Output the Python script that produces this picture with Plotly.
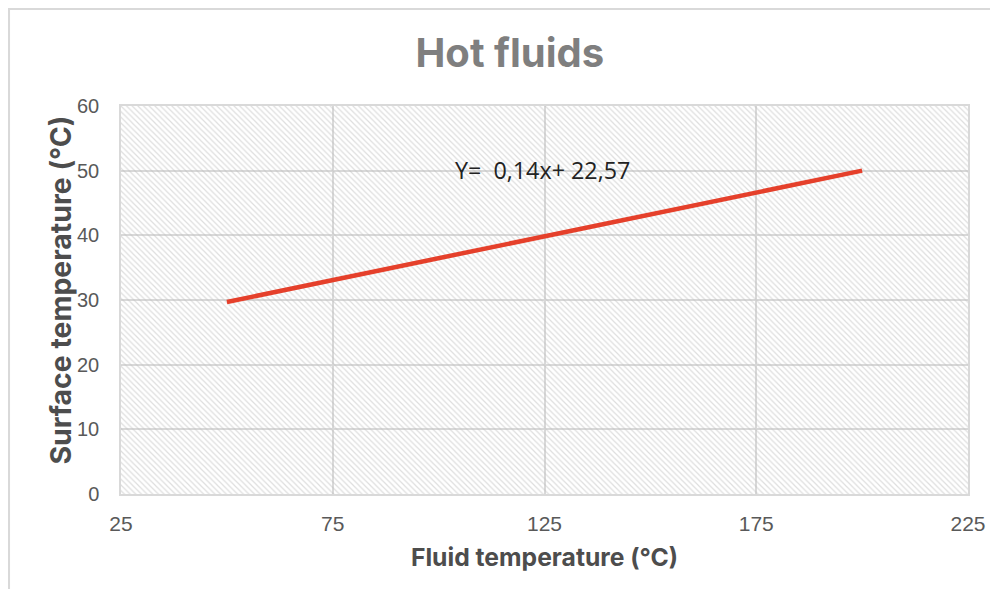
import plotly.graph_objects as go

# Data
fluid_temp = [50, 200]
surface_temp = [29.7, 50.0]
x_ticks = [25, 75, 125, 175, 225]
y_ticks = [0, 10, 20, 30, 40, 50, 60]
x_range = [25, 225]
y_range = [0, 60]
equation_text = "Y=  0,14x+ 22,57"
title_text = "Hot fluids"
x_title = "Fluid temperature (°C)"
y_title = "Surface temperature (°C)"

TITLE_FONT = "Inter"
TICK_FONT = "Liberation Sans"

fig = go.Figure()

# Hatched plot-area background
fig.add_trace(go.Scatter(
    x=[x_range[0], x_range[1], x_range[1], x_range[0], x_range[0]],
    y=[y_range[0], y_range[0], y_range[1], y_range[1], y_range[0]],
    mode="none", fill="toself",
    fillcolor="rgba(0,0,0,0)",
    fillpattern=dict(shape="\\", fgcolor="#bdbdbd", bgcolor="rgba(0,0,0,0)",
                     size=4, solidity=0.3),
    hoverinfo="skip", showlegend=False,
))

# Regression line
fig.add_trace(go.Scatter(
    x=fluid_temp, y=surface_temp, mode="lines",
    line=dict(color="#e5402b", width=4.5),
    showlegend=False,
))

fig.add_annotation(
    x=124.6, y=50.1, xref="x", yref="y", text=equation_text, showarrow=False,
    font=dict(family="Open Sans", size=23.3, color="#222222"),
    xanchor="center", yanchor="middle",
)

# Y-axis title (placed slightly above plot centre, as in the original)
fig.add_annotation(
    x=-0.072, y=0.5245, xref="paper", yref="paper", text=f"<b>{y_title}</b>",
    showarrow=False, textangle=-90, xanchor="center", yanchor="middle",
    font=dict(family=TITLE_FONT, size=28.4, color="#4d4d4d"),
)

# Chart frame
fig.add_shape(type="rect", xref="paper", yref="paper",
              x0=-0.1322, x1=1.1, y0=-0.3, y1=1.2500,
              line=dict(color="#d9d9d9", width=2), layer="below")

fig.update_layout(
    width=982, height=581,
    margin=dict(l=113, r=22, t=98, b=95, autoexpand=False),
    paper_bgcolor="white", plot_bgcolor="white",
    title=dict(text=f"<b>{title_text}</b>", x=0.511, xref="container", xanchor="center",
               y=0.9226, yref="container", yanchor="middle",
               font=dict(family=TITLE_FONT, size=40, color="#7f7f7f")),
    xaxis=dict(
        range=x_range, tickvals=x_ticks, showgrid=True, gridcolor="#d9d9d9", gridwidth=1.5,
        zeroline=False, showline=True, linecolor="#d9d9d9", linewidth=1.5, mirror=True,
        ticks="outside", ticklen=10, tickcolor="rgba(0,0,0,0)", automargin=False,
        tickfont=dict(family=TICK_FONT, size=21, color="#595959"),
        title=dict(text=f"<b>{x_title}</b>", standoff=15,
                   font=dict(family=TITLE_FONT, size=24.7, color="#4d4d4d")),
    ),
    yaxis=dict(
        range=y_range, tickvals=y_ticks, showgrid=True, gridcolor="#d9d9d9", gridwidth=1.5,
        zeroline=False, showline=True, linecolor="#d9d9d9", linewidth=1.5, mirror=True,
        ticks="outside", ticklen=16, tickcolor="rgba(0,0,0,0)", automargin=False,
        tickfont=dict(family=TICK_FONT, size=20, color="#595959"),
    ),
    hovermode=False,
)

fig.write_html("out.html")
